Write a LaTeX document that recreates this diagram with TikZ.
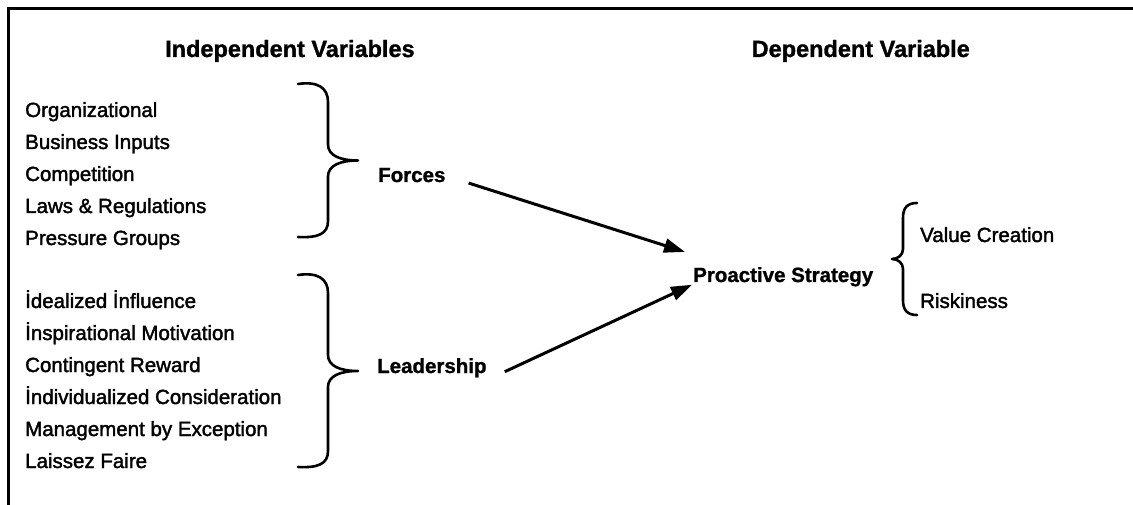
\documentclass[tikz,border=0pt]{standalone}
\usepackage{fontspec}
\setmainfont{Liberation Sans}
\newfontfamily\itemfont{Liberation Sans}[FakeBold=1.8]
\newfontfamily\headfont{Liberation Sans}[BoldFeatures={FakeBold=1.2}]
\usetikzlibrary{arrows.meta}
% right-pointing curly brace: left x, top y, bottom y
\newcommand\bracer[3]{%
  \pgfmathsetmacro\bmid{(#2+#3)/2}%
  \draw[brace] (#1,#2) .. controls (#1+20,#2-3) and (#1+30,#2+4) .. (#1+30,#2+18)
    -- (#1+30,\bmid-16) .. controls (#1+30,\bmid-5) and (#1+42,\bmid) .. (#1+60,\bmid)
    .. controls (#1+42,\bmid) and (#1+30,\bmid+5) .. (#1+30,\bmid+16)
    -- (#1+30,#3-16) .. controls (#1+30,#3-3) and (#1+20,#3+1) .. (#1,#3);}
\begin{document}
\begin{tikzpicture}[x=1pt,y=-1pt,
  item/.style={anchor=base west, inner sep=0pt, font=\fontsize{20.5}{24}\itemfont},
  head/.style={inner sep=0pt, font=\fontsize{23.5}{28}\headfont\bfseries},
  factor/.style={anchor=base west, inner sep=0pt, font=\fontsize{20.5}{24}\headfont\bfseries},
  brace/.style={line width=2.6pt, line cap=round, line join=round},
  arr/.style={line width=3pt, -{Triangle[length=21pt,width=14pt]}},
  frame/.style={line width=3pt}]
\useasboundingbox (0,0) rectangle (1133,505);
\fill[white] (0,0) rectangle (1133,505);
% open frame: top and left edges
\draw[frame] (1133,9) -- (8,9) -- (8,505);

% column headings
\node[head, anchor=base west] (indep) at (165,57) {Independent Variables};
\node[head, anchor=base east] (dep) at (970,57) {Dependent Variable};

% forces
\node[item] (org)  at (25,117) {Organizational};
\node[item] (bus)  at (25,149) {Business Inputs};
\node[item] (comp) at (25,181) {Competition};
\node[item] (laws) at (25,213) {Laws \& Regulations};
\node[item] (pres) at (25,245) {Pressure Groups};
\bracer{298}{84}{237}
\node[factor] (forces) at (378,182) {Forces};

% leadership
\node[item] (ideal) at (25,308) {İdealized İnfluence};
\node[item] (insp)  at (25,340) {İnspirational Motivation};
\node[item] (cont)  at (25,372) {Contingent Reward};
\node[item] (indiv) at (25,404) {İndividualized Consideration};
\node[item] (mbe)   at (25,436) {Management by Exception};
\node[item] (lf)    at (25,468) {Laissez Faire};
\bracer{298}{275}{467}
\node[factor] (lead) at (377,373) {Leadership};

% dependent variable
\node[factor] (pro) at (693,282) {Proactive Strategy};
\draw[brace] (917,203) .. controls (907,203) and (903,208) .. (903,218)
  -- (903,249) .. controls (903,255) and (898,259) .. (892,259)
  .. controls (898,259) and (903,263) .. (903,269)
  -- (903,300) .. controls (903,310) and (907,315) .. (917,315);
\node[item] (val)  at (920,242) {Value Creation};
\node[item] (risk) at (920,308) {Riskiness};

% causal arrows
\draw[arr] ([shift={(23,8)}]forces.east) -- ([shift={(-8,-15)}]pro.north west);
\draw[arr] ([shift={(18,4)}]lead.east) -- ([shift={(-1,8)}]pro.west);
\end{tikzpicture}
\end{document}
